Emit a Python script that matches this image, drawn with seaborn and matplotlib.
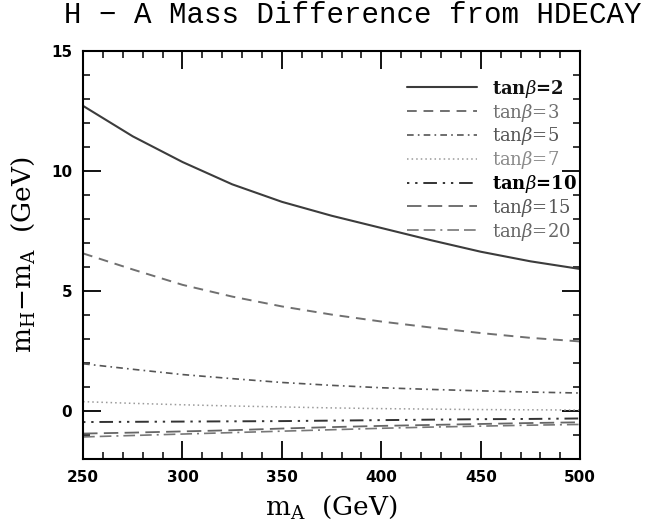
import matplotlib
matplotlib.use("Agg")
import matplotlib.pyplot as plt
import seaborn as sns
import pandas as pd
from matplotlib.ticker import MultipleLocator

# ---- data ----
m_A = [250, 275, 300, 325, 350, 375, 400, 425, 450, 475, 500]
dm_tb2 = [12.72, 11.45, 10.38, 9.45, 8.72, 8.14, 7.63, 7.12, 6.64, 6.24, 5.92]
dm_tb3 = [6.57, 5.90, 5.26, 4.77, 4.36, 4.02, 3.73, 3.48, 3.25, 3.05, 2.90]
dm_tb5 = [1.97, 1.74, 1.52, 1.35, 1.19, 1.07, 0.97, 0.90, 0.84, 0.79, 0.75]
dm_tb7 = [0.39, 0.32, 0.26, 0.21, 0.17, 0.13, 0.10, 0.08, 0.06, 0.05, 0.04]
dm_tb10 = [-0.46, -0.45, -0.44, -0.43, -0.42, -0.40, -0.38, -0.36, -0.34, -0.33, -0.31]
dm_tb15 = [-0.94, -0.90, -0.85, -0.80, -0.73, -0.67, -0.62, -0.58, -0.54, -0.50, -0.47]
dm_tb20 = [-1.08, -1.02, -0.96, -0.90, -0.84, -0.78, -0.72, -0.67, -0.63, -0.59, -0.56]
tanb_labels = ["2", "3", "5", "7", "10", "15", "20"]
x_ticks = [250, 300, 350, 400, 450, 500]
y_ticks = [0, 5, 10, 15]

series = [dm_tb2, dm_tb3, dm_tb5, dm_tb7, dm_tb10, dm_tb15, dm_tb20]
styles = [
    dict(color="#3c3c3c", lw=1.5, ls="-", bold=True, tc="#111111"),
    dict(color="#707070", lw=1.4, ls=(0, (5, 3.5)), bold=False, tc="#707070"),
    dict(color="#555555", lw=1.2, ls=(0, (4, 2.5, 1, 2.5)), bold=False, tc="#555555"),
    dict(color="#9a9a9a", lw=1.1, ls=(0, (1, 2)), bold=False, tc="#8a8a8a"),
    dict(color="#333333", lw=1.4, ls=(0, (1.2, 3, 1.2, 3, 7, 3)), bold=True, tc="#000000"),
    dict(color="#666666", lw=1.3, ls=(0, (8, 3.5)), bold=False, tc="#555555"),
    dict(color="#777777", lw=1.2, ls=(0, (7, 3, 7, 3, 1.2, 3)), bold=False, tc="#666666"),
]

sns.set_theme(style="ticks")
plt.rcParams["font.family"] = ["DejaVu Serif"]
plt.rcParams["mathtext.fontset"] = "dejavuserif"

fig = plt.figure(figsize=(6.49, 5.31), dpi=100)
ax = fig.add_axes([0.128, 0.1356, 0.766, 0.768])

for vals, lab, st in zip(series, tanb_labels, styles):
    df = pd.DataFrame({"m_A": m_A, "dm": vals})
    sns.lineplot(data=df, x="m_A", y="dm", ax=ax, color=st["color"],
                 linewidth=st["lw"], linestyle=st["ls"],
                 label=r"tan$\beta$=" + lab)

ax.set_xlim(250, 500)
ax.set_ylim(-2, 15)
ax.xaxis.set_major_locator(MultipleLocator(50))
ax.xaxis.set_minor_locator(MultipleLocator(10))
ax.yaxis.set_major_locator(MultipleLocator(5))
ax.yaxis.set_minor_locator(MultipleLocator(1))
ax.set_xticks(x_ticks)
ax.set_yticks(y_ticks)
ax.tick_params(which="both", direction="in", top=True, right=True, color="black",
               labelcolor="black")
ax.tick_params(which="major", length=13, width=1.3, labelsize=11, pad=8)
ax.tick_params(which="minor", length=5, width=1.1)
for lbl in ax.get_xticklabels() + ax.get_yticklabels():
    lbl.set_fontfamily("DejaVu Sans")
    lbl.set_fontweight("bold")
for sp in ax.spines.values():
    sp.set_linewidth(1.5)
    sp.set_color("black")

ax.set_xlabel(r"m$_\mathregular{A}$  (GeV)", fontsize=19, labelpad=6, color="black")
ax.set_ylabel(r"m$_\mathregular{H}$$-$m$_\mathregular{A}$  (GeV)", fontsize=19,
              labelpad=10, color="black")

leg = ax.legend(loc="upper right", bbox_to_anchor=(0.993, 0.935), frameon=False,
                fontsize=13, handlelength=3.9, handletextpad=0.8,
                labelspacing=0.1, borderaxespad=0.0, borderpad=0.0)
for txt, st in zip(leg.get_texts(), styles):
    txt.set_color(st["tc"])
    if st["bold"]:
        txt.set_fontweight("bold")

fig.text(0.543, 0.972, "H \u2212 A Mass Difference from HDECAY", ha="center", va="center",
         fontsize=21, family="Liberation Mono", color="black")

fig.savefig("out.png", dpi=100)
